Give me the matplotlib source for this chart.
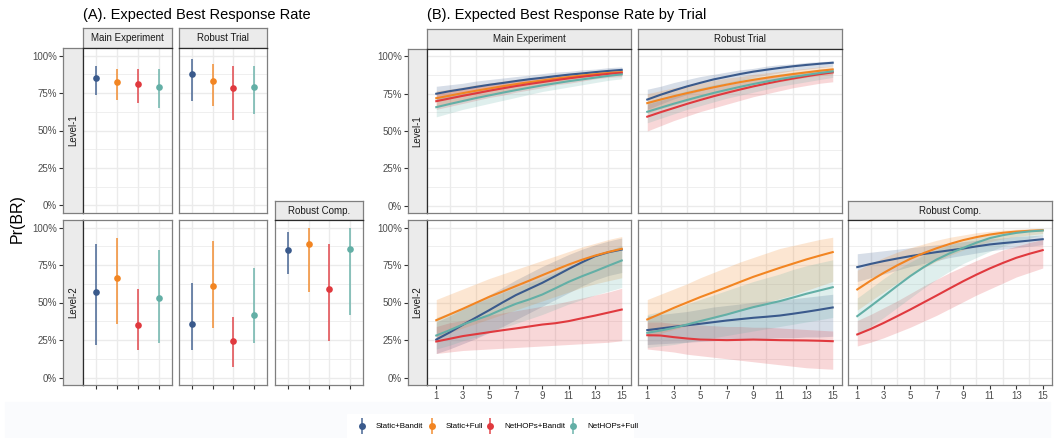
import matplotlib
matplotlib.use("Agg")
import matplotlib.pyplot as plt
from matplotlib.patches import Rectangle

plt.rcParams['font.family'] = ['Liberation Sans', 'DejaVu Sans']

series = ["Static+Bandit", "Static+Full", "NetHOPs+Bandit", "NetHOPs+Full"]
colors = ["#3A5A8C", "#F28522", "#E0393E", "#63AFA6"]
trials = list(range(1, 16))
pct_ticks = [0, 0.25, 0.5, 0.75, 1.0]
pct_labels = ["0%", "25%", "50%", "75%", "100%"]

# ---- (A) point estimates and intervals, one value per series ----
a_main1_mid = [0.853, 0.822, 0.813, 0.793]
a_main1_lo = [0.740, 0.702, 0.680, 0.649]
a_main1_hi = [0.933, 0.913, 0.911, 0.907]

a_robust1_mid = [0.878, 0.829, 0.782, 0.793]
a_robust1_lo = [0.700, 0.664, 0.571, 0.607]
a_robust1_hi = [0.978, 0.942, 0.927, 0.927]

a_main2_mid = [0.571, 0.664, 0.351, 0.531]
a_main2_lo = [0.216, 0.360, 0.182, 0.233]
a_main2_hi = [0.889, 0.927, 0.587, 0.847]

a_robust2_mid = [0.360, 0.607, 0.242, 0.416]
a_robust2_lo = [0.184, 0.331, 0.073, 0.227]
a_robust2_hi = [0.629, 0.907, 0.402, 0.733]

a_comp2_mid = [0.853, 0.889, 0.587, 0.858]
a_comp2_lo = [0.693, 0.567, 0.242, 0.420]
a_comp2_hi = [0.967, 0.998, 0.887, 0.998]

# ---- (B) rate by trial, rows = series ----
b_main1_mid = [
    [0.750, 0.767, 0.781, 0.796, 0.810, 0.822, 0.835, 0.847, 0.857, 0.868, 0.878, 0.886, 0.895, 0.903, 0.910],
    [0.720, 0.737, 0.754, 0.770, 0.785, 0.800, 0.814, 0.827, 0.839, 0.851, 0.862, 0.872, 0.881, 0.889, 0.895],
    [0.700, 0.718, 0.736, 0.753, 0.770, 0.786, 0.801, 0.815, 0.828, 0.841, 0.853, 0.864, 0.874, 0.883, 0.890],
    [0.660, 0.681, 0.701, 0.721, 0.739, 0.757, 0.774, 0.790, 0.806, 0.820, 0.834, 0.846, 0.858, 0.870, 0.880],
]
b_main1_lo = [
    [0.700, 0.720, 0.735, 0.750, 0.770, 0.785, 0.800, 0.815, 0.830, 0.840, 0.855, 0.865, 0.875, 0.885, 0.890],
    [0.670, 0.690, 0.710, 0.725, 0.745, 0.760, 0.780, 0.795, 0.810, 0.825, 0.835, 0.850, 0.860, 0.870, 0.875],
    [0.645, 0.665, 0.685, 0.705, 0.725, 0.740, 0.760, 0.775, 0.790, 0.810, 0.820, 0.835, 0.850, 0.860, 0.865],
    [0.595, 0.620, 0.645, 0.665, 0.685, 0.705, 0.725, 0.745, 0.765, 0.780, 0.795, 0.810, 0.825, 0.840, 0.850],
]
b_main1_hi = [
    [0.800, 0.810, 0.820, 0.835, 0.845, 0.855, 0.865, 0.875, 0.885, 0.895, 0.900, 0.910, 0.915, 0.925, 0.930],
    [0.770, 0.780, 0.795, 0.810, 0.820, 0.835, 0.845, 0.855, 0.865, 0.875, 0.885, 0.895, 0.900, 0.910, 0.915],
    [0.750, 0.765, 0.780, 0.795, 0.810, 0.825, 0.835, 0.850, 0.860, 0.870, 0.880, 0.890, 0.895, 0.905, 0.910],
    [0.720, 0.735, 0.750, 0.765, 0.780, 0.795, 0.810, 0.820, 0.835, 0.845, 0.855, 0.865, 0.875, 0.885, 0.900],
]

b_robust1_mid = [
    [0.711, 0.743, 0.772, 0.799, 0.823, 0.846, 0.864, 0.882, 0.898, 0.911, 0.923, 0.934, 0.943, 0.951, 0.958],
    [0.687, 0.711, 0.733, 0.754, 0.774, 0.793, 0.811, 0.828, 0.843, 0.857, 0.870, 0.882, 0.893, 0.904, 0.913],
    [0.596, 0.626, 0.654, 0.682, 0.708, 0.733, 0.756, 0.778, 0.799, 0.818, 0.836, 0.852, 0.867, 0.881, 0.893],
    [0.629, 0.656, 0.683, 0.708, 0.732, 0.755, 0.776, 0.796, 0.815, 0.832, 0.848, 0.863, 0.876, 0.889, 0.900],
]
b_robust1_lo = [
    [0.645, 0.680, 0.715, 0.745, 0.770, 0.795, 0.820, 0.840, 0.860, 0.875, 0.890, 0.905, 0.915, 0.925, 0.935],
    [0.620, 0.650, 0.675, 0.700, 0.720, 0.745, 0.765, 0.785, 0.800, 0.815, 0.830, 0.845, 0.860, 0.870, 0.880],
    [0.500, 0.535, 0.570, 0.600, 0.630, 0.655, 0.680, 0.705, 0.730, 0.750, 0.770, 0.790, 0.805, 0.820, 0.830],
    [0.555, 0.585, 0.615, 0.645, 0.670, 0.695, 0.720, 0.740, 0.760, 0.780, 0.800, 0.815, 0.830, 0.845, 0.860],
]
b_robust1_hi = [
    [0.780, 0.800, 0.825, 0.845, 0.865, 0.880, 0.895, 0.910, 0.920, 0.935, 0.945, 0.950, 0.960, 0.965, 0.970],
    [0.750, 0.770, 0.790, 0.805, 0.820, 0.840, 0.855, 0.865, 0.880, 0.890, 0.900, 0.910, 0.920, 0.930, 0.935],
    [0.680, 0.705, 0.730, 0.750, 0.775, 0.795, 0.810, 0.830, 0.845, 0.860, 0.875, 0.885, 0.895, 0.905, 0.915],
    [0.700, 0.720, 0.745, 0.770, 0.790, 0.810, 0.825, 0.845, 0.860, 0.870, 0.885, 0.895, 0.905, 0.915, 0.925],
]

b_main2_mid = [
    [0.253, 0.300, 0.351, 0.400, 0.449, 0.500, 0.549, 0.590, 0.631, 0.677, 0.724, 0.768, 0.809, 0.835, 0.853],
    [0.382, 0.420, 0.458, 0.498, 0.538, 0.573, 0.609, 0.645, 0.682, 0.718, 0.753, 0.785, 0.813, 0.837, 0.858],
    [0.240, 0.258, 0.276, 0.289, 0.302, 0.315, 0.327, 0.340, 0.353, 0.362, 0.376, 0.395, 0.413, 0.433, 0.453],
    [0.280, 0.315, 0.353, 0.385, 0.416, 0.455, 0.491, 0.520, 0.553, 0.595, 0.638, 0.675, 0.709, 0.745, 0.780],
]
b_main2_lo = [
    [0.160, 0.190, 0.225, 0.260, 0.300, 0.340, 0.385, 0.430, 0.475, 0.520, 0.565, 0.610, 0.650, 0.680, 0.700],
    [0.270, 0.300, 0.330, 0.360, 0.390, 0.420, 0.450, 0.480, 0.510, 0.540, 0.570, 0.600, 0.625, 0.645, 0.665],
    [0.160, 0.170, 0.180, 0.185, 0.190, 0.195, 0.200, 0.205, 0.210, 0.215, 0.220, 0.225, 0.230, 0.235, 0.245],
    [0.190, 0.215, 0.245, 0.270, 0.300, 0.330, 0.360, 0.390, 0.420, 0.455, 0.490, 0.520, 0.550, 0.575, 0.600],
]
b_main2_hi = [
    [0.370, 0.410, 0.455, 0.500, 0.550, 0.600, 0.650, 0.695, 0.740, 0.780, 0.820, 0.855, 0.885, 0.910, 0.930],
    [0.520, 0.555, 0.590, 0.625, 0.660, 0.690, 0.720, 0.750, 0.780, 0.810, 0.840, 0.870, 0.895, 0.920, 0.940],
    [0.340, 0.365, 0.380, 0.400, 0.415, 0.430, 0.445, 0.460, 0.475, 0.490, 0.510, 0.530, 0.550, 0.570, 0.595],
    [0.400, 0.430, 0.460, 0.495, 0.530, 0.565, 0.600, 0.630, 0.665, 0.700, 0.740, 0.775, 0.810, 0.845, 0.880],
]

b_robust2_mid = [
    [0.316, 0.327, 0.338, 0.348, 0.358, 0.369, 0.380, 0.389, 0.398, 0.405, 0.413, 0.425, 0.438, 0.452, 0.467],
    [0.387, 0.425, 0.464, 0.500, 0.536, 0.569, 0.602, 0.637, 0.671, 0.701, 0.731, 0.759, 0.787, 0.812, 0.836],
    [0.282, 0.280, 0.269, 0.260, 0.253, 0.251, 0.249, 0.251, 0.253, 0.251, 0.249, 0.248, 0.247, 0.245, 0.242],
    [0.298, 0.313, 0.331, 0.353, 0.376, 0.398, 0.420, 0.445, 0.469, 0.489, 0.509, 0.533, 0.558, 0.580, 0.602],
]
b_robust2_lo = [
    [0.220, 0.225, 0.230, 0.235, 0.240, 0.245, 0.250, 0.255, 0.260, 0.260, 0.265, 0.265, 0.270, 0.270, 0.275],
    [0.270, 0.295, 0.320, 0.345, 0.370, 0.395, 0.420, 0.445, 0.470, 0.500, 0.525, 0.550, 0.580, 0.610, 0.640],
    [0.190, 0.180, 0.170, 0.155, 0.145, 0.135, 0.125, 0.115, 0.105, 0.095, 0.085, 0.075, 0.065, 0.060, 0.055],
    [0.200, 0.210, 0.220, 0.235, 0.250, 0.265, 0.280, 0.295, 0.310, 0.325, 0.340, 0.355, 0.370, 0.385, 0.400],
]
b_robust2_hi = [
    [0.410, 0.420, 0.430, 0.440, 0.455, 0.470, 0.480, 0.490, 0.500, 0.510, 0.515, 0.525, 0.535, 0.545, 0.555],
    [0.520, 0.555, 0.590, 0.625, 0.665, 0.700, 0.735, 0.770, 0.800, 0.830, 0.860, 0.880, 0.900, 0.920, 0.935],
    [0.370, 0.370, 0.360, 0.355, 0.350, 0.345, 0.340, 0.340, 0.335, 0.335, 0.330, 0.325, 0.320, 0.315, 0.310],
    [0.420, 0.440, 0.460, 0.490, 0.520, 0.550, 0.580, 0.610, 0.640, 0.665, 0.690, 0.720, 0.745, 0.765, 0.785],
]

b_comp2_mid = [
    [0.736, 0.757, 0.776, 0.793, 0.809, 0.823, 0.836, 0.848, 0.860, 0.874, 0.887, 0.896, 0.904, 0.913, 0.922],
    [0.587, 0.645, 0.698, 0.747, 0.791, 0.829, 0.862, 0.891, 0.916, 0.936, 0.953, 0.965, 0.973, 0.978, 0.982],
    [0.287, 0.323, 0.364, 0.408, 0.453, 0.500, 0.547, 0.595, 0.642, 0.686, 0.727, 0.764, 0.798, 0.825, 0.849],
    [0.409, 0.475, 0.542, 0.610, 0.676, 0.735, 0.787, 0.829, 0.864, 0.899, 0.929, 0.949, 0.964, 0.974, 0.980],
]
b_comp2_lo = [
    [0.640, 0.665, 0.690, 0.715, 0.740, 0.760, 0.780, 0.800, 0.815, 0.830, 0.845, 0.855, 0.865, 0.875, 0.885],
    [0.450, 0.510, 0.570, 0.630, 0.685, 0.730, 0.775, 0.815, 0.850, 0.880, 0.905, 0.925, 0.940, 0.950, 0.960],
    [0.210, 0.235, 0.265, 0.300, 0.335, 0.375, 0.415, 0.460, 0.505, 0.550, 0.590, 0.630, 0.670, 0.700, 0.730],
    [0.280, 0.340, 0.400, 0.465, 0.530, 0.595, 0.655, 0.710, 0.760, 0.800, 0.840, 0.875, 0.905, 0.930, 0.950],
]
b_comp2_hi = [
    [0.825, 0.835, 0.845, 0.855, 0.865, 0.875, 0.885, 0.895, 0.905, 0.915, 0.925, 0.930, 0.940, 0.945, 0.950],
    [0.715, 0.760, 0.800, 0.835, 0.865, 0.890, 0.915, 0.935, 0.950, 0.965, 0.975, 0.983, 0.988, 0.992, 0.995],
    [0.380, 0.420, 0.465, 0.510, 0.560, 0.610, 0.655, 0.700, 0.740, 0.780, 0.815, 0.850, 0.875, 0.900, 0.920],
    [0.530, 0.595, 0.660, 0.720, 0.770, 0.815, 0.855, 0.885, 0.910, 0.935, 0.955, 0.970, 0.980, 0.987, 0.990],
]

W, H = 1055, 438
fig = plt.figure(figsize=(W / 100, H / 100), dpi=100)

GRID = "#EBEBEB"
BORDER = "#7F7F7F"
DARK = "#2B2B2B"


def box(x0, y0, x1, y1):
    # pixel box (top-left origin) -> figure fraction
    return [x0 / W, 1 - y1 / H, (x1 - x0) / W, (y1 - y0) / H]


def panel(x0, y0, x1, y1, xlim, xgrid, dark_top=False, dark_left=False):
    ax = fig.add_axes(box(x0, y0, x1, y1))
    ax.set_xlim(*xlim)
    ax.set_ylim(-0.05, 1.05)
    for v in [0.125, 0.375, 0.625, 0.875]:
        ax.axhline(v, color=GRID, lw=0.55, zorder=0)
    for v in pct_ticks:
        ax.axhline(v, color=GRID, lw=1.0, zorder=0)
    for v in xgrid:
        ax.axvline(v, color=GRID, lw=1.0, zorder=0)
    for s in ax.spines.values():
        s.set_color(BORDER)
        s.set_linewidth(0.9)
    if dark_top:
        ax.spines["top"].set_color(DARK)
    if dark_left:
        ax.spines["left"].set_color(DARK)
    ax.set_yticks([])
    ax.set_xticks([])
    return ax


def top_strip(x0, y0, x1, y1, label):
    ax = fig.add_axes(box(x0, y0, x1, y1))
    ax.set_facecolor("#EBEBEB")
    ax.set_xticks([])
    ax.set_yticks([])
    for s in ax.spines.values():
        s.set_color(BORDER)
        s.set_linewidth(0.9)
    ax.text(0.5, 0.5, label, transform=ax.transAxes, ha="center", va="center",
            fontsize=7, color="#1A1A1A")


def side_strip(x0, y0, x1, y1, label):
    ax = fig.add_axes(box(x0, y0, x1, y1))
    ax.set_facecolor("#EBEBEB")
    ax.set_ylim(-0.05, 1.05)
    ax.set_xticks([])
    ax.set_yticks(pct_ticks)
    ax.set_yticklabels(pct_labels)
    ax.tick_params(axis="y", length=2.8, width=0.8, color="#333333",
                   labelsize=7, labelcolor="#4D4D4D", pad=1.5)
    for s in ax.spines.values():
        s.set_color(BORDER)
        s.set_linewidth(0.9)
    ax.text(0.5, 0.5, label, transform=ax.transAxes, ha="center", va="center",
            rotation=90, fontsize=7, color="#1A1A1A")


def draw_points(ax, mid, lo, hi, bottom=False):
    for i in range(4):
        ax.vlines(i + 1, lo[i], hi[i], color=colors[i], lw=1.2, alpha=0.85, zorder=2)
        ax.plot(i + 1, mid[i], "o", color=colors[i], ms=4.8, mec="none", zorder=3)
    if bottom:
        ax.set_xticks([1, 2, 3, 4])
        ax.set_xticklabels([])
        ax.tick_params(axis="x", length=2.8, width=0.8, color="#333333")


def draw_lines(ax, mid, lo, hi, bottom=False):
    for i in range(4):
        ax.fill_between(trials, lo[i], hi[i], color=colors[i], alpha=0.2, lw=0, zorder=1)
    for i in range(4):
        ax.plot(trials, mid[i], color=colors[i], lw=1.5, zorder=3)
    if bottom:
        ax.set_xticks(list(range(1, 16, 2)))
        ax.tick_params(axis="x", length=2.8, width=0.8, color="#333333",
                       labelsize=7, labelcolor="#4D4D4D", pad=1.5)


# faint background band under the plots, legend box is white
fig.patches.append(Rectangle((5 / W, 0), 1045 / W, 36 / H, transform=fig.transFigure,
                             color="#FAFBFD", zorder=-5))
fig.patches.append(Rectangle((347 / W, 0), 286 / W, 24 / H, transform=fig.transFigure,
                             color="white", zorder=-4))

# ---------------- (A) ----------------
xa = (0.4, 4.6)
ga = [1, 2, 3, 4]
top_strip(83, 28, 172, 48, "Main Experiment")
top_strip(179, 28, 267, 48, "Robust Trial")
top_strip(275, 201, 363, 220, "Robust Comp.")
side_strip(63, 48, 83, 213, "Level-1")
side_strip(63, 220, 83, 385, "Level-2")

ax = panel(83, 48, 172, 213, xa, ga, dark_top=True, dark_left=True)
draw_points(ax, a_main1_mid, a_main1_lo, a_main1_hi)
ax = panel(179, 48, 267, 213, xa, ga, dark_top=True)
draw_points(ax, a_robust1_mid, a_robust1_lo, a_robust1_hi)
ax = panel(83, 220, 172, 385, xa, ga, dark_left=True)
draw_points(ax, a_main2_mid, a_main2_lo, a_main2_hi, bottom=True)
ax = panel(179, 220, 267, 385, xa, ga)
draw_points(ax, a_robust2_mid, a_robust2_lo, a_robust2_hi, bottom=True)
ax = panel(275, 220, 363, 385, xa, ga, dark_top=True)
draw_points(ax, a_comp2_mid, a_comp2_lo, a_comp2_hi, bottom=True)

# ---------------- (B) ----------------
xb = (0.3, 15.7)
gb = list(range(2, 15, 2))
top_strip(427, 29, 631, 49, "Main Experiment")
top_strip(638, 29, 842, 49, "Robust Trial")
top_strip(848, 201, 1052, 220, "Robust Comp.")
side_strip(408, 49, 427, 213, "Level-1")
side_strip(408, 220, 427, 385, "Level-2")

ax = panel(427, 49, 631, 213, xb, gb, dark_top=True, dark_left=True)
draw_lines(ax, b_main1_mid, b_main1_lo, b_main1_hi)
ax = panel(638, 49, 842, 213, xb, gb, dark_top=True)
draw_lines(ax, b_robust1_mid, b_robust1_lo, b_robust1_hi)
ax = panel(427, 220, 631, 385, xb, gb, dark_left=True)
draw_lines(ax, b_main2_mid, b_main2_lo, b_main2_hi, bottom=True)
ax = panel(638, 220, 842, 385, xb, gb)
draw_lines(ax, b_robust2_mid, b_robust2_lo, b_robust2_hi, bottom=True)
ax = panel(848, 220, 1052, 385, xb, gb, dark_top=True)
draw_lines(ax, b_comp2_mid, b_comp2_lo, b_comp2_hi, bottom=True)

# titles and shared y label
fig.text(83 / W, 1 - 15 / H, "(A). Expected Best Response Rate", fontsize=10.5,
         ha="left", va="center", color="black")
fig.text(427 / W, 1 - 15 / H, "(B). Expected Best Response Rate by Trial", fontsize=10.5,
         ha="left", va="center", color="black")
fig.text(17 / W, 1 - 219 / H, "Pr(BR)", fontsize=11.5, rotation=90,
         ha="center", va="center", color="black")

# legend (pointrange keys)
lax = fig.add_axes(box(347, 414, 633, 438))
lax.set_xlim(347, 633)
lax.set_ylim(0, 1)
lax.axis("off")
key_x = [362, 432, 490, 573]
for i, name in enumerate(series):
    lax.vlines(key_x[i], 0.15, 0.85, color=colors[i], lw=1.2, alpha=0.85)
    lax.plot(key_x[i], 0.5, "o", color=colors[i], ms=5, mec="none")
    lax.text(key_x[i] + 14, 0.5, name, fontsize=5.8, va="center", ha="left", color="black")

fig.savefig("out.png", dpi=100)
